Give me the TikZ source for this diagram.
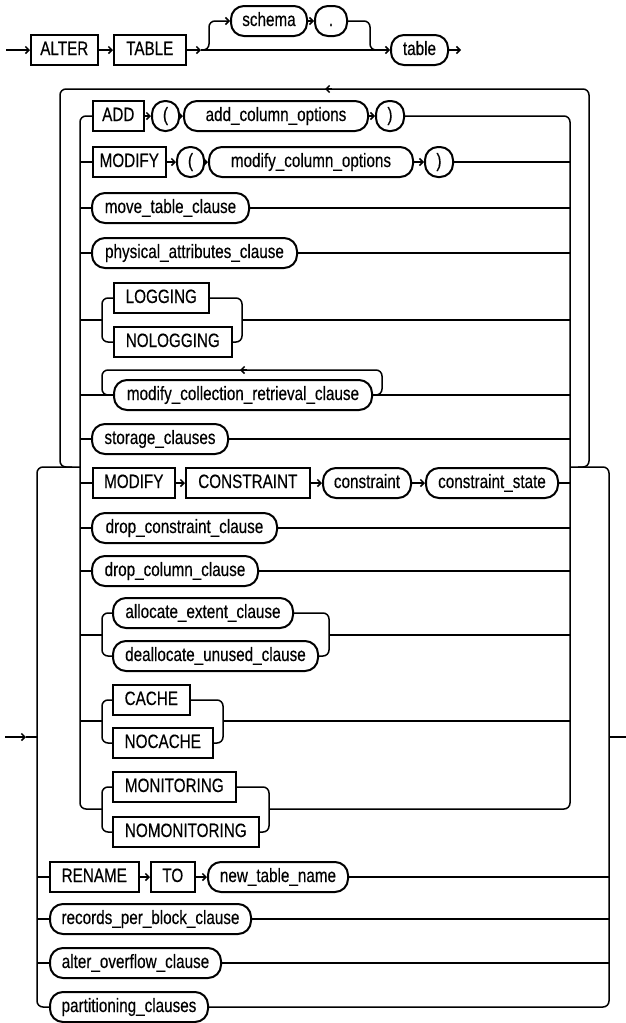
\documentclass[tikz,border=0pt]{standalone}
\usepackage{fontspec}
\setmainfont{Liberation Sans}[FakeStretch=0.79, FakeBold=0.35]
\usetikzlibrary{arrows.meta}
\begin{document}
\begin{tikzpicture}[x=1pt,y=-1pt,
  line/.style={line width=1.5pt},
  rr/.style={line, rounded corners=6pt},
  arr/.style={line, -{Straight Barb[length=3.5pt,width=7pt]}},
  kw/.style={draw, line width=1.6pt, rectangle, minimum height=30pt, inner sep=0pt, anchor=west,
             text height=14pt, text depth=4pt, font=\fontsize{19.3}{21}\selectfont},
  ov/.style={kw, rounded corners=13pt, line width=2pt},
]
\path[use as bounding box, fill=white] (0,0) rectangle (626,1023);

% ---------- top row ----------
\node[kw, minimum width=67pt] (alter) at (30,50) {ALTER};
\node[kw, minimum width=72pt] (tablekw) at (113,50) {TABLE};
\node[ov, minimum width=76pt] (schema) at (230,21) {schema};
\node[ov, minimum width=32pt] (dot) at (314,21) {.};
\node[ov, minimum width=57pt] (tablen) at (390,50) {table};
\coordinate (b1) at (201,50);
\coordinate (topend) at (461,50);
\draw[arr] (6,50) -- (alter.west);
\draw[arr] (alter.east) -- (tablekw.west);
\draw[arr] (tablekw.east) -- (b1);
\draw[arr] (b1) -- (tablen.west);
\draw[rr, arr] (b1) -| (209,21) -- (schema.west);
\draw[arr] (schema.east) -- (dot.west);
\draw[rr] (dot.east) -| (370,50) -- (378,50);
\draw[arr] (tablen.east) -- (topend);

% ---------- repeat loop ----------
\draw[rr] (578,467) -| (589,89) -| (60,467) -- (72,467);
\draw[arr] (332,89) -- (325,89);

% ---------- inner choice ----------
% ADD row
\node[kw, minimum width=51pt] (add) at (92,116) {ADD};
\node[ov, minimum width=27pt] (lp1) at (151,116) {(};
\node[ov, minimum width=184pt] (aco) at (183,116) {add\_column\_options};
\node[ov, minimum width=28pt] (rp1) at (375,116) {)};
\draw[arr] (add.east) -- (lp1.west);
\draw[arr] (lp1.east) -- (aco.west);
\draw[arr] (aco.east) -- (rp1.west);
\draw[rr] (add.west) -| (80,809) -- (102,809);
\draw[rr] (rp1.east) -| (570,809) -- (269,809);

% MODIFY row
\node[kw, minimum width=73pt] (mod1) at (92,162) {MODIFY};
\node[ov, minimum width=27pt] (lp2) at (176,162) {(};
\node[ov, minimum width=204pt] (mco) at (208,162) {modify\_column\_options};
\node[ov, minimum width=28pt] (rp2) at (424,162) {)};
\draw[line] (80,162) -- (mod1.west);
\draw[arr] (mod1.east) -- (lp2.west);
\draw[arr] (lp2.east) -- (mco.west);
\draw[arr] (mco.east) -- (rp2.west);
\draw[line] (rp2.east) -- (570,162);

% move_table_clause
\node[ov, minimum width=157pt] (move) at (91,208) {move\_table\_clause};
\draw[line] (80,208) -- (move.west);
\draw[line] (move.east) -- (570,208);

% physical_attributes_clause
\node[ov, minimum width=205pt] (phys) at (91,253) {physical\_attributes\_clause};
\draw[line] (80,253) -- (phys.west);
\draw[line] (phys.east) -- (570,253);

% LOGGING / NOLOGGING
\node[kw, minimum width=95pt] (log) at (113,298) {LOGGING};
\node[kw, minimum width=118pt] (nolog) at (113,342) {NOLOGGING};
\draw[rr] (log.west) -| (102,320) |- (nolog.west);
\draw[rr] (log.east) -| (242,320) |- (nolog.east);
\draw[line] (80,320) -- (102,320);
\draw[line] (242,320) -- (570,320);

% modify_collection_retrieval_clause (loop)
\node[ov, minimum width=258pt] (mcrc) at (113,395) {modify\_collection\_retrieval\_clause};
\draw[line] (80,395) -- (mcrc.west);
\draw[line] (mcrc.east) -- (570,395);
\draw[rr] (mcrc.east) -| (382,370) -| (102,395) -- (mcrc.west);
\draw[arr] (247,370) -- (240,370);

% storage_clauses
\node[ov, minimum width=136pt] (stor) at (91,439) {storage\_clauses};
\draw[line] (80,439) -- (stor.west);
\draw[line] (stor.east) -- (570,439);

% MODIFY CONSTRAINT
\node[kw, minimum width=82pt] (mod2) at (92,483) {MODIFY};
\node[kw, minimum width=124pt] (cons) at (185,483) {CONSTRAINT};
\node[ov, minimum width=88pt] (constr) at (322,483) {constraint};
\node[ov, minimum width=132pt] (cstate) at (425,483) {constraint\_state};
\draw[line] (80,483) -- (mod2.west);
\draw[arr] (mod2.east) -- (cons.west);
\draw[arr] (cons.east) -- (constr.west);
\draw[arr] (constr.east) -- (cstate.west);
\draw[line] (cstate.east) -- (570,483);

% drop_constraint_clause
\node[ov, minimum width=185pt] (dcc) at (91,528) {drop\_constraint\_clause};
\draw[line] (80,528) -- (dcc.west);
\draw[line] (dcc.east) -- (570,528);

% drop_column_clause
\node[ov, minimum width=166pt] (dcol) at (91,571) {drop\_column\_clause};
\draw[line] (80,571) -- (dcol.west);
\draw[line] (dcol.east) -- (570,571);

% allocate / deallocate
\node[ov, minimum width=180pt] (alloc) at (112,613) {allocate\_extent\_clause};
\node[ov, minimum width=205pt] (dealloc) at (112,656) {deallocate\_unused\_clause};
\draw[rr] (alloc.west) -| (102,635) |- (dealloc.west);
\draw[rr] (alloc.east) -| (329,635) |- (dealloc.east);
\draw[line] (80,635) -- (102,635);
\draw[line] (329,635) -- (570,635);

% CACHE / NOCACHE
\node[kw, minimum width=77pt] (cache) at (112,700) {CACHE};
\node[kw, minimum width=100pt] (nocache) at (112,743) {NOCACHE};
\draw[rr] (cache.west) -| (102,721) |- (nocache.west);
\draw[rr] (cache.east) -| (223,721) |- (nocache.east);
\draw[line] (80,721) -- (102,721);
\draw[line] (223,721) -- (570,721);

% MONITORING / NOMONITORING
\node[kw, minimum width=123pt] (mon) at (112,787) {MONITORING};
\node[kw, minimum width=146pt] (nomon) at (112,832) {NOMONITORING};
\draw[rr] (mon.west) -| (102,809) |- (nomon.west);
\draw[rr] (mon.east) -| (269,809) |- (nomon.east);

% ---------- outer choice ----------
\draw[rr] (80,467) -| (37,1007) -- (49,1007);
\draw[rr] (570,467) -| (609,1007) -- (207,1007);
\draw[arr] (5,737) -- (26,737);
\draw[line] (26,737) -- (37,737);
\draw[line] (609,737) -- (626,737);

% RENAME TO new_table_name
\node[kw, minimum width=89pt] (ren) at (49,877) {RENAME};
\node[kw, minimum width=44pt] (to) at (150,877) {TO};
\node[ov, minimum width=140pt] (ntn) at (207,877) {new\_table\_name};
\draw[line] (37,877) -- (ren.west);
\draw[arr] (ren.east) -- (to.west);
\draw[arr] (to.east) -- (ntn.west);
\draw[line] (ntn.east) -- (609,877);

% records_per_block_clause
\node[ov, minimum width=201pt] (rpb) at (49,919) {records\_per\_block\_clause};
\draw[line] (37,919) -- (rpb.west);
\draw[line] (rpb.east) -- (609,919);

% alter_overflow_clause
\node[ov, minimum width=171pt] (aoc) at (49,963) {alter\_overflow\_clause};
\draw[line] (37,963) -- (aoc.west);
\draw[line] (aoc.east) -- (609,963);

% partitioning_clauses
\node[ov, minimum width=158pt, fill=white] (part) at (49,1007) {partitioning\_clauses};
\end{tikzpicture}
\end{document}
